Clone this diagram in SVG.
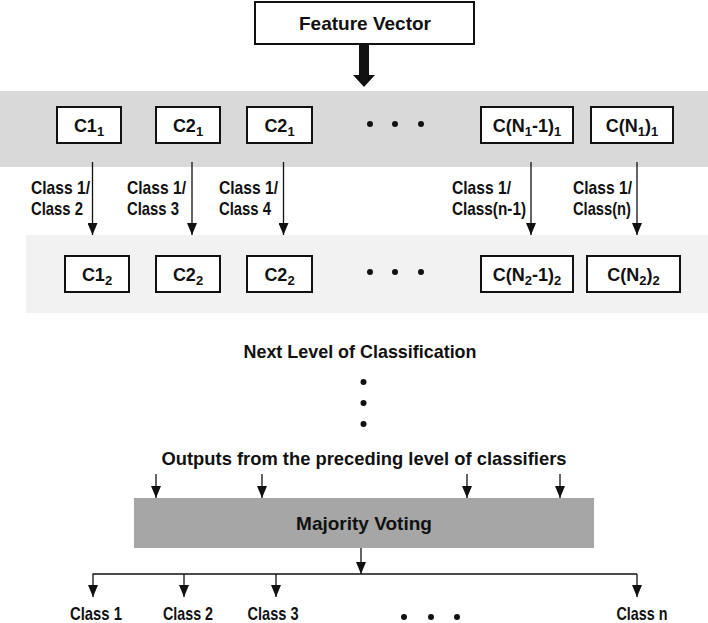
<svg xmlns="http://www.w3.org/2000/svg" width="708" height="623" viewBox="0 0 708 623">
<style>
text{font-family:"Liberation Sans",Arial,sans-serif;font-weight:bold;fill:#111}
.t{font-size:19px;text-anchor:middle}
.c{font-size:18px;text-anchor:middle}
.l{font-size:18.5px}
.o{font-size:18.5px;text-anchor:middle}
.box{fill:#fff;stroke:#111;stroke-width:2}
.ln{stroke:#111;stroke-width:1.3;fill:none}
.dot{fill:#111}
</style>
<defs>
<marker id="ah" markerWidth="12" markerHeight="10" refX="12" refY="5" orient="auto" markerUnits="userSpaceOnUse" viewBox="0 0 12 10">
<path d="M0,0 L12,5 L0,10 Z" fill="#111"/>
</marker>
</defs>
<rect x="0" y="91" width="708" height="76" fill="#d9d9d9"/>
<rect x="26" y="235" width="682" height="78" fill="#f2f2f2"/>
<g id="feature">
<rect class="box" x="255" y="2" width="219" height="42"/>
<text class="t" x="365" y="30">Feature Vector</text>
</g>
<g id="connectors">
<path d="M359,44 H369 V75 H375 L364,87 L353,75 H359 Z" fill="#111"/>
<line class="ln" x1="92.5" y1="162" x2="92.5" y2="235" marker-end="url(#ah)"/>
<line class="ln" x1="192" y1="162" x2="192" y2="235" marker-end="url(#ah)"/>
<line class="ln" x1="283.5" y1="162" x2="283.5" y2="235" marker-end="url(#ah)"/>
<line class="ln" x1="531" y1="162" x2="531" y2="235" marker-end="url(#ah)"/>
<line class="ln" x1="637" y1="162" x2="637" y2="235" marker-end="url(#ah)"/>
<line class="ln" x1="156" y1="474" x2="156" y2="498" marker-end="url(#ah)"/>
<line class="ln" x1="262" y1="474" x2="262" y2="498" marker-end="url(#ah)"/>
<line class="ln" x1="467" y1="474" x2="467" y2="498" marker-end="url(#ah)"/>
<line class="ln" x1="560" y1="474" x2="560" y2="498" marker-end="url(#ah)"/>
<line class="ln" x1="361" y1="548" x2="361" y2="574" marker-end="url(#ah)"/>
<line class="ln" x1="92.5" y1="574" x2="637" y2="574"/>
<line class="ln" x1="93" y1="574" x2="93" y2="597" marker-end="url(#ah)"/>
<line class="ln" x1="184" y1="574" x2="184" y2="597" marker-end="url(#ah)"/>
<line class="ln" x1="276" y1="574" x2="276" y2="597" marker-end="url(#ah)"/>
<line class="ln" x1="637" y1="574" x2="637" y2="597" marker-end="url(#ah)"/>
</g>
<g id="c1_1"><rect class="box" x="57" y="107" width="64" height="36"/><text class="c" x="89" y="132">C1<tspan font-size="13" dy="4">1</tspan></text></g>
<g id="c2_1a"><rect class="box" x="156" y="107" width="64" height="36"/><text class="c" x="188" y="132">C2<tspan font-size="13" dy="4">1</tspan></text></g>
<g id="c2_1b"><rect class="box" x="247" y="107" width="65" height="36"/><text class="c" x="279.5" y="132">C2<tspan font-size="13" dy="4">1</tspan></text></g>
<g id="cn1m1_1"><rect class="box" x="481" y="107" width="92" height="36"/><text class="c" x="527" y="132">C(N<tspan font-size="13" dy="4">1</tspan><tspan dy="-4">-1)</tspan><tspan font-size="13" dy="4">1</tspan></text></g>
<g id="cn1_1"><rect class="box" x="591" y="107" width="82" height="36"/><text class="c" x="632" y="132">C(N<tspan font-size="13" dy="4">1</tspan><tspan dy="-4">)</tspan><tspan font-size="13" dy="4">1</tspan></text></g>
<g id="dots1"><circle class="dot" cx="370" cy="124" r="3"/><circle class="dot" cx="395" cy="124" r="3"/><circle class="dot" cx="421" cy="124" r="3"/></g>
<g id="labels">
<text class="l" x="31" y="194" textLength="59" lengthAdjust="spacingAndGlyphs">Class 1/</text><text class="l" x="31" y="215" textLength="52" lengthAdjust="spacingAndGlyphs">Class 2</text>
<text class="l" x="127" y="194" textLength="59" lengthAdjust="spacingAndGlyphs">Class 1/</text><text class="l" x="127" y="215" textLength="52" lengthAdjust="spacingAndGlyphs">Class 3</text>
<text class="l" x="219" y="194" textLength="59" lengthAdjust="spacingAndGlyphs">Class 1/</text><text class="l" x="219" y="215" textLength="52" lengthAdjust="spacingAndGlyphs">Class 4</text>
<text class="l" x="452" y="194" textLength="59" lengthAdjust="spacingAndGlyphs">Class 1/</text><text class="l" x="452" y="215" textLength="74" lengthAdjust="spacingAndGlyphs">Class(n-1)</text>
<text class="l" x="573" y="194" textLength="59" lengthAdjust="spacingAndGlyphs">Class 1/</text><text class="l" x="573" y="215" textLength="58" lengthAdjust="spacingAndGlyphs">Class(n)</text>
</g>
<g id="c1_2"><rect class="box" x="65" y="256" width="64" height="36"/><text class="c" x="97" y="281">C1<tspan font-size="13" dy="4">2</tspan></text></g>
<g id="c2_2a"><rect class="box" x="156" y="256" width="64" height="36"/><text class="c" x="188" y="281">C2<tspan font-size="13" dy="4">2</tspan></text></g>
<g id="c2_2b"><rect class="box" x="247" y="256" width="65" height="36"/><text class="c" x="279.5" y="281">C2<tspan font-size="13" dy="4">2</tspan></text></g>
<g id="cn2m1_2"><rect class="box" x="481" y="256" width="92" height="36"/><text class="c" x="527" y="281">C(N<tspan font-size="13" dy="4">2</tspan><tspan dy="-4">-1)</tspan><tspan font-size="13" dy="4">2</tspan></text></g>
<g id="cn2_2"><rect class="box" x="587" y="256" width="93" height="36"/><text class="c" x="633.5" y="281">C(N<tspan font-size="13" dy="4">2</tspan><tspan dy="-4">)</tspan><tspan font-size="13" dy="4">2</tspan></text></g>
<g id="dots2"><circle class="dot" cx="370" cy="272" r="3"/><circle class="dot" cx="395" cy="272" r="3"/><circle class="dot" cx="421" cy="272" r="3"/></g>
<g id="nextlevel"><text class="t" x="360" y="358" textLength="233" lengthAdjust="spacingAndGlyphs">Next Level of Classification</text></g>
<g id="vdots"><circle class="dot" cx="363.5" cy="382" r="3"/><circle class="dot" cx="363.5" cy="403" r="3"/><circle class="dot" cx="363.5" cy="424" r="3"/></g>
<g id="outputs"><text class="t" x="364" y="465" textLength="405" lengthAdjust="spacingAndGlyphs">Outputs from the preceding level of classifiers</text></g>
<g id="majority"><rect x="134" y="498" width="460" height="50" fill="#a6a6a6"/><text class="t" x="364" y="530">Majority Voting</text></g>
<g id="class1"><text class="o" x="96" y="620" textLength="52" lengthAdjust="spacingAndGlyphs">Class 1</text></g>
<g id="class2"><text class="o" x="188" y="620" textLength="50" lengthAdjust="spacingAndGlyphs">Class 2</text></g>
<g id="class3"><text class="o" x="273" y="620" textLength="51" lengthAdjust="spacingAndGlyphs">Class 3</text></g>
<g id="dots3"><circle class="dot" cx="404" cy="617" r="3"/><circle class="dot" cx="431" cy="617" r="3"/><circle class="dot" cx="457" cy="617" r="3"/></g>
<g id="classn"><text class="o" x="642" y="620" textLength="51" lengthAdjust="spacingAndGlyphs">Class n</text></g>
</svg>
